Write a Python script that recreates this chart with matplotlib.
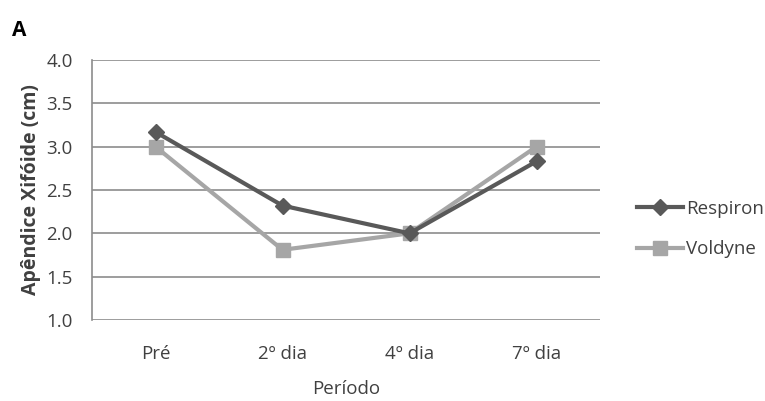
import matplotlib
matplotlib.use("Agg")
import matplotlib.pyplot as plt

categories = ["Pré", "2º dia", "4º dia", "7º dia"]
respiron = [3.17, 2.32, 2.0, 2.83]
voldyne = [3.0, 1.81, 2.0, 3.0]
yticks = [1.0, 1.5, 2.0, 2.5, 3.0, 3.5, 4.0]

plt.rcParams['font.family'] = ['Open Sans', 'DejaVu Sans']
txt = '#404040'

fig = plt.figure(figsize=(7.65, 4.01), dpi=100)
ax = fig.add_axes([92/765, 81/401, 508/765, 260/401])
x = list(range(len(categories)))
ax.plot(x, respiron, color='#595959', lw=3, marker='D', markersize=8, label='Respiron', zorder=4)
ax.plot(x, voldyne, color='#a6a6a6', lw=3, marker='s', markersize=10, label='Voldyne', zorder=3)
ax.set_xlim(-0.5, 3.5)
ax.set_ylim(1.0, 4.0)
ax.set_yticks(yticks)
ax.set_yticklabels([f"{v:.1f}" for v in yticks])
ax.set_xticks(x)
ax.set_xticklabels(categories)
ax.grid(axis='y', color='#8c8c8c', lw=1.2)
ax.set_axisbelow(True)
for s in ['top', 'right', 'bottom']:
    ax.spines[s].set_visible(False)
ax.spines['left'].set_color('#8c8c8c')
ax.spines['left'].set_linewidth(1.2)
ax.tick_params(axis='both', length=0, labelsize=13.5, colors=txt)
ax.tick_params(axis='x', pad=18)
ax.tick_params(axis='y', pad=14)
ax.set_xlabel('Período', fontsize=13.5, color=txt, labelpad=12)
ax.set_ylabel('Apêndice Xifóide (cm)', fontsize=14, color=txt, fontweight='bold', labelpad=4)
leg = ax.legend(loc='center left', bbox_to_anchor=(1.072, 0.35), frameon=False, fontsize=13.5,
                handlelength=2.5, labelspacing=1.2, handletextpad=0.15, borderaxespad=0, borderpad=0)
for t in leg.get_texts():
    t.set_color(txt)
fig.text(12/765, 1 - 30/401, 'A', fontsize=15, fontweight='bold', color='black', va='center')
fig.savefig('out.png', dpi=100)
